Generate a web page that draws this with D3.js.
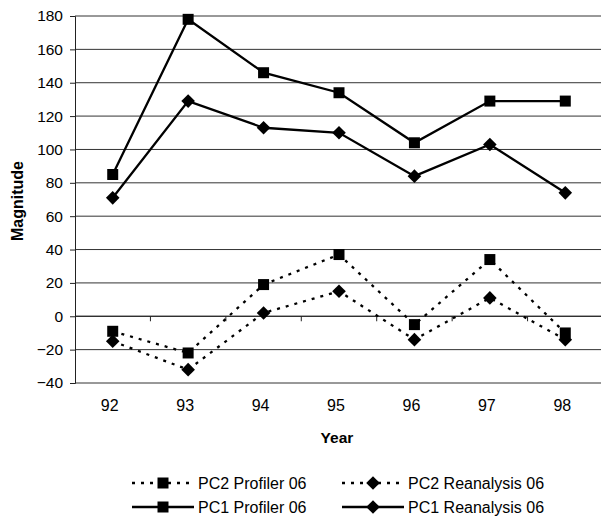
<!DOCTYPE html>
<html>
<head>
<meta charset="utf-8">
<script src="https://cdn.jsdelivr.net/npm/d3@7"></script>
<style>
  html, body { margin: 0; padding: 0; background: #fff; }
  svg { display: block; font-family: "Liberation Sans", Arial, sans-serif; }
</style>
</head>
<body>
<svg id="chart" width="601" height="521"></svg>
<script>
// Years along the category axis
const years = ["92", "93", "94", "95", "96", "97", "98"];

// Magnitudes per series
const pc2Profiler   = [-9, -22, 19, 37, -5, 34, -10];
const pc2Reanalysis = [-15, -32, 2, 15, -14, 11, -14];
const pc1Profiler   = [85, 178, 146, 134, 104, 129, 129];
const pc1Reanalysis = [71, 129, 113, 110, 84, 103, 74];

// Value axis ticks
const yTicks = [-40, -20, 0, 20, 40, 60, 80, 100, 120, 140, 160, 180];

const series = [
  { name: "PC2 Profiler 06",    values: pc2Profiler,   dashed: true,  marker: "square"  },
  { name: "PC2 Reanalysis 06",  values: pc2Reanalysis, dashed: true,  marker: "diamond" },
  { name: "PC1 Profiler 06",    values: pc1Profiler,   dashed: false, marker: "square"  },
  { name: "PC1 Reanalysis 06",  values: pc1Reanalysis, dashed: false, marker: "diamond" }
];

const svg = d3.select("#chart");
const plot = { left: 75, right: 603, top: 16, bottom: 383 };

const x = d3.scaleBand().domain(years).range([plot.left, plot.right]).padding(0);
const y = d3.scaleLinear().domain([-40, 180]).range([plot.bottom, plot.top]);
const cx = d => x(d) + x.bandwidth() / 2;

// Horizontal gridlines
svg.append("g")
  .selectAll("line")
  .data(yTicks)
  .join("line")
  .attr("x1", plot.left).attr("x2", plot.right)
  .attr("y1", d => y(d)).attr("y2", d => y(d))
  .attr("stroke", "#333").attr("stroke-width", 1);

// Value axis on the left
const yAxis = svg.append("g")
  .attr("transform", `translate(${plot.left},0)`)
  .call(d3.axisLeft(y).tickValues(yTicks).tickSize(5).tickPadding(7));
yAxis.select(".domain").attr("stroke", "#222");
yAxis.selectAll(".tick line").attr("stroke", "#222");
yAxis.selectAll("text")
  .attr("font-size", 15.5).attr("fill", "#000")
  .attr("font-family", "'Liberation Sans', Arial, sans-serif");

// Category axis crossing at zero, with tick marks at the band boundaries
const zeroY = y(0);
svg.append("line")
  .attr("x1", plot.left).attr("x2", plot.right)
  .attr("y1", zeroY).attr("y2", zeroY)
  .attr("stroke", "#222").attr("stroke-width", 1);
svg.append("g")
  .selectAll("line")
  .data(years.slice(1))
  .join("line")
  .attr("x1", d => x(d)).attr("x2", d => x(d))
  .attr("y1", zeroY).attr("y2", zeroY + 5)
  .attr("stroke", "#222");

// Year labels below the plot
svg.append("g")
  .selectAll("text")
  .data(years)
  .join("text")
  .attr("x", d => cx(d) - 3)
  .attr("y", 411)
  .attr("text-anchor", "middle")
  .attr("font-size", 16)
  .text(d => d);

// Axis titles
svg.append("text")
  .attr("x", 337).attr("y", 443)
  .attr("text-anchor", "middle")
  .attr("font-size", 15.5).attr("font-weight", "bold")
  .text("Year");
svg.append("text")
  .attr("transform", "translate(23,201) rotate(-90)")
  .attr("text-anchor", "middle")
  .attr("font-size", 16).attr("font-weight", "bold")
  .text("Magnitude");

// Marker symbols
const squareSym = d3.symbol().type(d3.symbolSquare).size(121);
const diamondPath = s => `M0,${-s}L${s},0L0,${s}L${-s},0Z`;
function drawMarker(g, type, px, py) {
  if (type === "square") {
    g.append("path").attr("d", squareSym()).attr("transform", `translate(${px},${py})`).attr("fill", "#000");
  } else {
    g.append("path").attr("d", diamondPath(6.8)).attr("transform", `translate(${px},${py})`).attr("fill", "#000");
  }
}

const line = d3.line().x((d, i) => cx(years[i])).y(d => y(d));

series.forEach(s => {
  const g = svg.append("g");
  g.append("path")
    .attr("d", line(s.values))
    .attr("fill", "none")
    .attr("stroke", "#000")
    .attr("stroke-width", 2.3)
    .attr("stroke-dasharray", s.dashed ? "3,6" : null);
  s.values.forEach((v, i) => drawMarker(g, s.marker, cx(years[i]), y(v)));
});

// Legend: two columns, two rows
const legendItems = [
  { s: series[0], lx: 132, ly: 483 },
  { s: series[1], lx: 342, ly: 483 },
  { s: series[2], lx: 132, ly: 507 },
  { s: series[3], lx: 342, ly: 507 }
];
legendItems.forEach(it => {
  const g = svg.append("g");
  const x0 = it.lx, x1 = it.lx + 62;
  g.append("line")
    .attr("x1", x0).attr("x2", x1)
    .attr("y1", it.ly).attr("y2", it.ly)
    .attr("stroke", "#000").attr("stroke-width", 2.3)
    .attr("stroke-dasharray", it.s.dashed ? "3,6" : null);
  drawMarker(g, it.s.marker, (x0 + x1) / 2, it.ly);
  g.append("text")
    .attr("x", x1 + 4).attr("y", it.ly + 6)
    .attr("font-size", 16)
    .text(it.s.name);
});
</script>
</body>
</html>
